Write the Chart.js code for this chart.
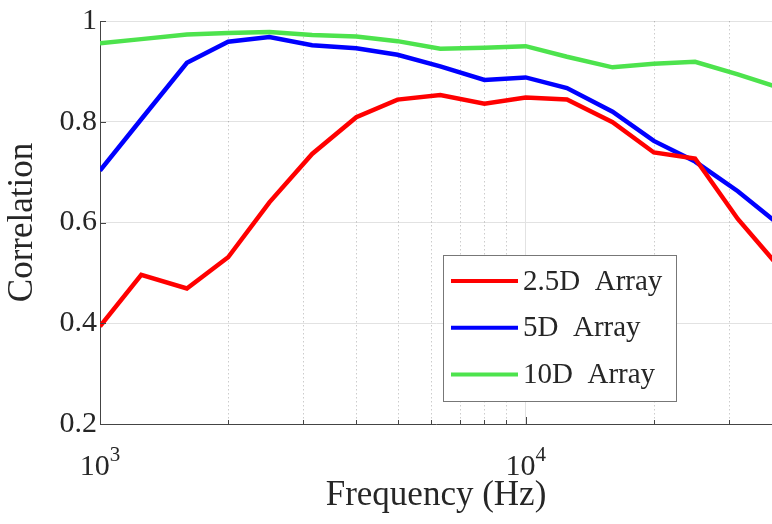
<!DOCTYPE html>
<html>
<head>
<meta charset="utf-8">
<script src="https://cdn.jsdelivr.net/npm/chart.js@4.4.0/dist/chart.umd.min.js"></script>
<style>
  html, body { margin: 0; padding: 0; background: #fff; }
  #wrap { width: 772px; height: 524px; }
</style>
</head>
<body>
<div id="wrap"><canvas id="corrChart" width="772" height="524"></canvas></div>
<script>
// 1/3-octave band centre frequencies (Hz)
var freqs = [1000, 1250, 1600, 2000, 2500, 3150, 4000, 5000, 6300, 8000, 10000, 12500, 16000, 20000, 25000, 31500, 40000];

var array25D = [0.394, 0.496, 0.469, 0.531, 0.640, 0.736, 0.809, 0.844, 0.853, 0.836, 0.848, 0.844, 0.799, 0.739, 0.727, 0.607, 0.505];
var array5D  = [0.703, 0.805, 0.917, 0.959, 0.968, 0.952, 0.946, 0.933, 0.910, 0.883, 0.888, 0.867, 0.820, 0.762, 0.721, 0.662, 0.591];
var array10D = [0.956, 0.964, 0.973, 0.976, 0.978, 0.972, 0.969, 0.960, 0.945, 0.947, 0.950, 0.929, 0.908, 0.915, 0.919, 0.894, 0.866];

var seriesLabels = ["2.5D  Array", "5D  Array", "10D  Array"];
var seriesColors = ["#ff0000", "#0000ff", "#4de34d"];

var xTicks = [1000, 2000, 3000, 4000, 5000, 6000, 7000, 8000, 9000, 10000, 20000, 30000];
var xMajor = [1000, 10000];
var xMajorExp = ["3", "4"];

var FONT = "'Liberation Serif', 'Times New Roman', serif";
var INK = "#262626";

function points(vals) {
  return freqs.map(function (f, i) { return { x: f, y: vals[i] }; });
}

// minor dotted grid, inward ticks, 10^n labels and the legend box
var matlabLook = {
  id: "matlabLook",
  beforeDatasetsDraw: function (chart) {
    var c = chart.ctx, xs = chart.scales.x, a = chart.chartArea;
    c.save();
    c.strokeStyle = "rgba(0,0,0,0.2)";
    c.lineWidth = 1;
    c.setLineDash([1.5, 2.5]);
    xTicks.forEach(function (v) {
      if (xMajor.indexOf(v) >= 0) return;
      var px = Math.round(xs.getPixelForValue(v)) + 0.5;
      c.beginPath();
      c.moveTo(px, a.top);
      c.lineTo(px, a.bottom);
      c.stroke();
    });
    c.restore();
  },
  afterDraw: function (chart) {
    var c = chart.ctx, xs = chart.scales.x, ys = chart.scales.y, a = chart.chartArea;
    c.save();
    // tick marks pointing inside
    c.strokeStyle = "#444";
    c.lineWidth = 1;
    xTicks.forEach(function (v) {
      var px = Math.round(xs.getPixelForValue(v)) + 0.5;
      var len = xMajor.indexOf(v) >= 0 ? 7 : 4;
      c.beginPath();
      c.moveTo(px, a.bottom);
      c.lineTo(px, a.bottom - len);
      c.stroke();
    });
    ys.ticks.forEach(function (t) {
      var py = Math.round(ys.getPixelForValue(t.value)) + 0.5;
      c.beginPath();
      c.moveTo(a.left, py);
      c.lineTo(a.left + 6, py);
      c.stroke();
    });

    // 10^n tick labels
    c.fillStyle = INK;
    c.textBaseline = "alphabetic";
    c.textAlign = "left";
    xMajor.forEach(function (v, i) {
      var px = xs.getPixelForValue(v);
      c.font = "30px " + FONT;
      var wBase = c.measureText("10").width;
      c.font = "21px " + FONT;
      var wExp = c.measureText(xMajorExp[i]).width;
      var x0 = px - (wBase + wExp) / 2;
      c.font = "30px " + FONT;
      c.fillText("10", x0, 475);
      c.font = "21px " + FONT;
      c.fillText(xMajorExp[i], x0 + wBase, 461);
    });

    // legend
    var bx = 443.5, by = 255.5, bw = 233, bh = 146;
    c.fillStyle = "#fff";
    c.fillRect(bx, by, bw, bh);
    c.strokeStyle = "#777";
    c.lineWidth = 1;
    c.strokeRect(bx, by, bw, bh);
    c.font = "29px " + FONT;
    c.textBaseline = "middle";
    chart.data.datasets.forEach(function (ds, i) {
      var ry = 281 + i * 46.7;
      c.strokeStyle = ds.borderColor;
      c.lineWidth = 4;
      c.beginPath();
      c.moveTo(451, ry);
      c.lineTo(518, ry);
      c.stroke();
      c.fillStyle = INK;
      c.fillText(ds.label, 523, ry + 1);
    });
    c.restore();
  }
};

var ctx = document.getElementById("corrChart");
var corrChart = new Chart(ctx, {
  type: "line",
  data: {
    datasets: [
      { label: seriesLabels[0], data: points(array25D), borderColor: seriesColors[0] },
      { label: seriesLabels[1], data: points(array5D), borderColor: seriesColors[1] },
      { label: seriesLabels[2], data: points(array10D), borderColor: seriesColors[2] }
    ]
  },
  options: {
    responsive: false,
    devicePixelRatio: 1,
    animation: false,
    layout: { padding: { top: 20, right: 0, left: 0, bottom: 0 } },
    elements: {
      line: { borderWidth: 4.5, tension: 0, fill: false },
      point: { radius: 0, hoverRadius: 0 }
    },
    plugins: {
      legend: { display: false },
      tooltip: { enabled: false }
    },
    scales: {
      x: {
        type: "logarithmic",
        min: 1000,
        max: 37900,
        afterBuildTicks: function (scale) {
          scale.ticks = xTicks.map(function (v) { return { value: v }; });
        },
        afterFit: function (scale) { scale.height = 100; },
        ticks: { display: false },
        grid: {
          drawTicks: false,
          color: function (c) {
            return c.tick && c.tick.value === 10000 ? "#e2e2e2" : "rgba(0,0,0,0)";
          }
        },
        border: { color: "#444", width: 1 },
        title: {
          display: true,
          text: "Frequency (Hz)",
          color: INK,
          font: { family: FONT, size: 35, lineHeight: 1.2 },
          padding: { top: 0, bottom: 7 }
        }
      },
      y: {
        type: "linear",
        min: 0.2,
        max: 1,
        afterFit: function (scale) { scale.width = 100; },
        ticks: {
          stepSize: 0.2,
          padding: 3,
          color: INK,
          font: { family: FONT, size: 30 },
          callback: function (v) { return String(Number(v.toFixed(1))); }
        },
        grid: {
          drawTicks: false,
          color: "#e2e2e2"
        },
        border: { color: "#444", width: 1 },
        title: {
          display: true,
          text: "Correlation",
          color: INK,
          font: { family: FONT, size: 35, lineHeight: 1.2 },
          padding: { top: 2, bottom: 0 }
        }
      }
    }
  },
  plugins: [matlabLook]
});
</script>
</body>
</html>
